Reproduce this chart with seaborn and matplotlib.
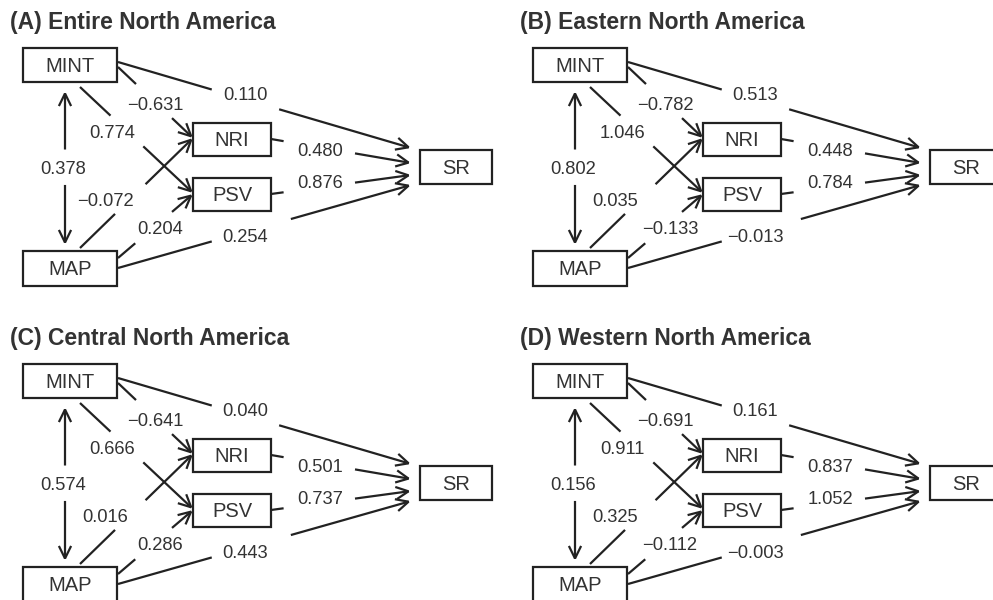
import matplotlib
matplotlib.use("Agg")
import matplotlib.pyplot as plt
from matplotlib.patches import Rectangle, FancyArrowPatch, ArrowStyle
import seaborn as sns

# ---------------- data ----------------
panel_letters = ["(A)", "(B)", "(C)", "(D)"]
panel_titles = ["Entire North America", "Eastern North America",
                "Central North America", "Western North America"]
node_names = ["MINT", "MAP", "NRI", "PSV", "SR"]
path_names = ["MINT<->MAP", "MINT->NRI", "MINT->PSV", "MAP->NRI", "MAP->PSV",
              "MINT->SR", "MAP->SR", "NRI->SR", "PSV->SR"]
coef_A = [0.378, -0.631, 0.774, -0.072, 0.204, 0.110, 0.254, 0.480, 0.876]
coef_B = [0.802, -0.782, 1.046, 0.035, -0.133, 0.513, -0.013, 0.448, 0.784]
coef_C = [0.574, -0.641, 0.666, 0.016, 0.286, 0.040, 0.443, 0.501, 0.737]
coef_D = [0.156, -0.691, 0.911, 0.325, -0.112, 0.161, -0.003, 0.837, 1.052]
panel_coefs = [coef_A, coef_B, coef_C, coef_D]

# ---------------- layout (pixel units inside one panel) ----------------
panel_origin = [(0, 0), (510, 0), (0, 316), (510, 316)]
box_geom = {"MINT": (23, 48, 94, 34), "MAP": (23, 251, 94, 35),
            "NRI": (193, 123, 78, 33), "PSV": (193, 178, 78, 33),
            "SR": (420, 150, 72, 34)}
# start, end, gap t0, gap t1, label position, double-headed
path_geom = [
    ((65, 91), (65, 245), 0.38, 0.61, (63, 169), True),
    ((118, 67), (193, 138), 0.24, 0.72, (155, 105), False),
    ((80, 87), (193, 193), 0.27, 0.56, (112, 133), False),
    ((80, 248), (193, 138), 0.31, 0.58, (105, 201), False),
    ((118, 258), (193, 194), 0.23, 0.72, (160, 230), False),
    ((118, 62), (411, 148), 0.32, 0.55, (245, 96), False),
    ((118, 268), (411, 185), 0.32, 0.59, (245, 237), False),
    ((271, 139), (411, 163), 0.09, 0.60, (320, 152), False),
    ((271, 194), (411, 175), 0.09, 0.60, (320, 184), False),
]

sns.set_theme(style="white")
plt.rcParams["font.family"] = ["Liberation Sans", "DejaVu Sans"]

W, H = 993, 600
fig = plt.figure(figsize=(W / 100, H / 100), dpi=100)
ax = fig.add_axes([0, 0, 1, 1])
ax.set_xlim(0, W)
ax.set_ylim(H, 0)
ax.axis("off")

LC = "#222222"
TC = "#333333"
LW = 1.6
style = ArrowStyle("->", head_length=0.45, head_width=0.22)


def lerp(p, q, t):
    return (p[0] + (q[0] - p[0]) * t, p[1] + (q[1] - p[1]) * t)


def arrow(a, b):
    ax.add_patch(FancyArrowPatch(a, b, arrowstyle=style, mutation_scale=20,
                                 color=LC, lw=LW, shrinkA=0, shrinkB=0,
                                 joinstyle="miter", capstyle="butt"))


def fmt(v):
    return f"{v:.3f}".replace("-", "\u2212")


for (ox, oy), letter, title, coefs in zip(panel_origin, panel_letters,
                                          panel_titles, panel_coefs):
    ax.text(ox + 10, oy + 23, f"{letter} {title}", fontsize=16.5,
            fontweight="bold", color=TC, ha="left", va="center")
    for name in node_names:
        x, y, w, h = box_geom[name]
        ax.add_patch(Rectangle((ox + x, oy + y), w, h, facecolor="white",
                               edgecolor=LC, lw=LW, zorder=3))
        ax.text(ox + x + w / 2, oy + y + h / 2 + 1, name, fontsize=14.5,
                color=TC, ha="center", va="center", zorder=4)
    for (s, e, t0, t1, lp, both), v in zip(path_geom, coefs):
        s = (ox + s[0], oy + s[1])
        e = (ox + e[0], oy + e[1])
        g0 = lerp(s, e, t0)
        g1 = lerp(s, e, t1)
        if both:
            arrow(g0, s)
        else:
            ax.plot([s[0], g0[0]], [s[1], g0[1]], color=LC, lw=LW,
                    solid_capstyle="butt")
        arrow(g1, e)
        ax.text(ox + lp[0], oy + lp[1], fmt(v), fontsize=13.2, color=TC,
                ha="center", va="center")

fig.savefig("out.png", dpi=100, facecolor="white")
